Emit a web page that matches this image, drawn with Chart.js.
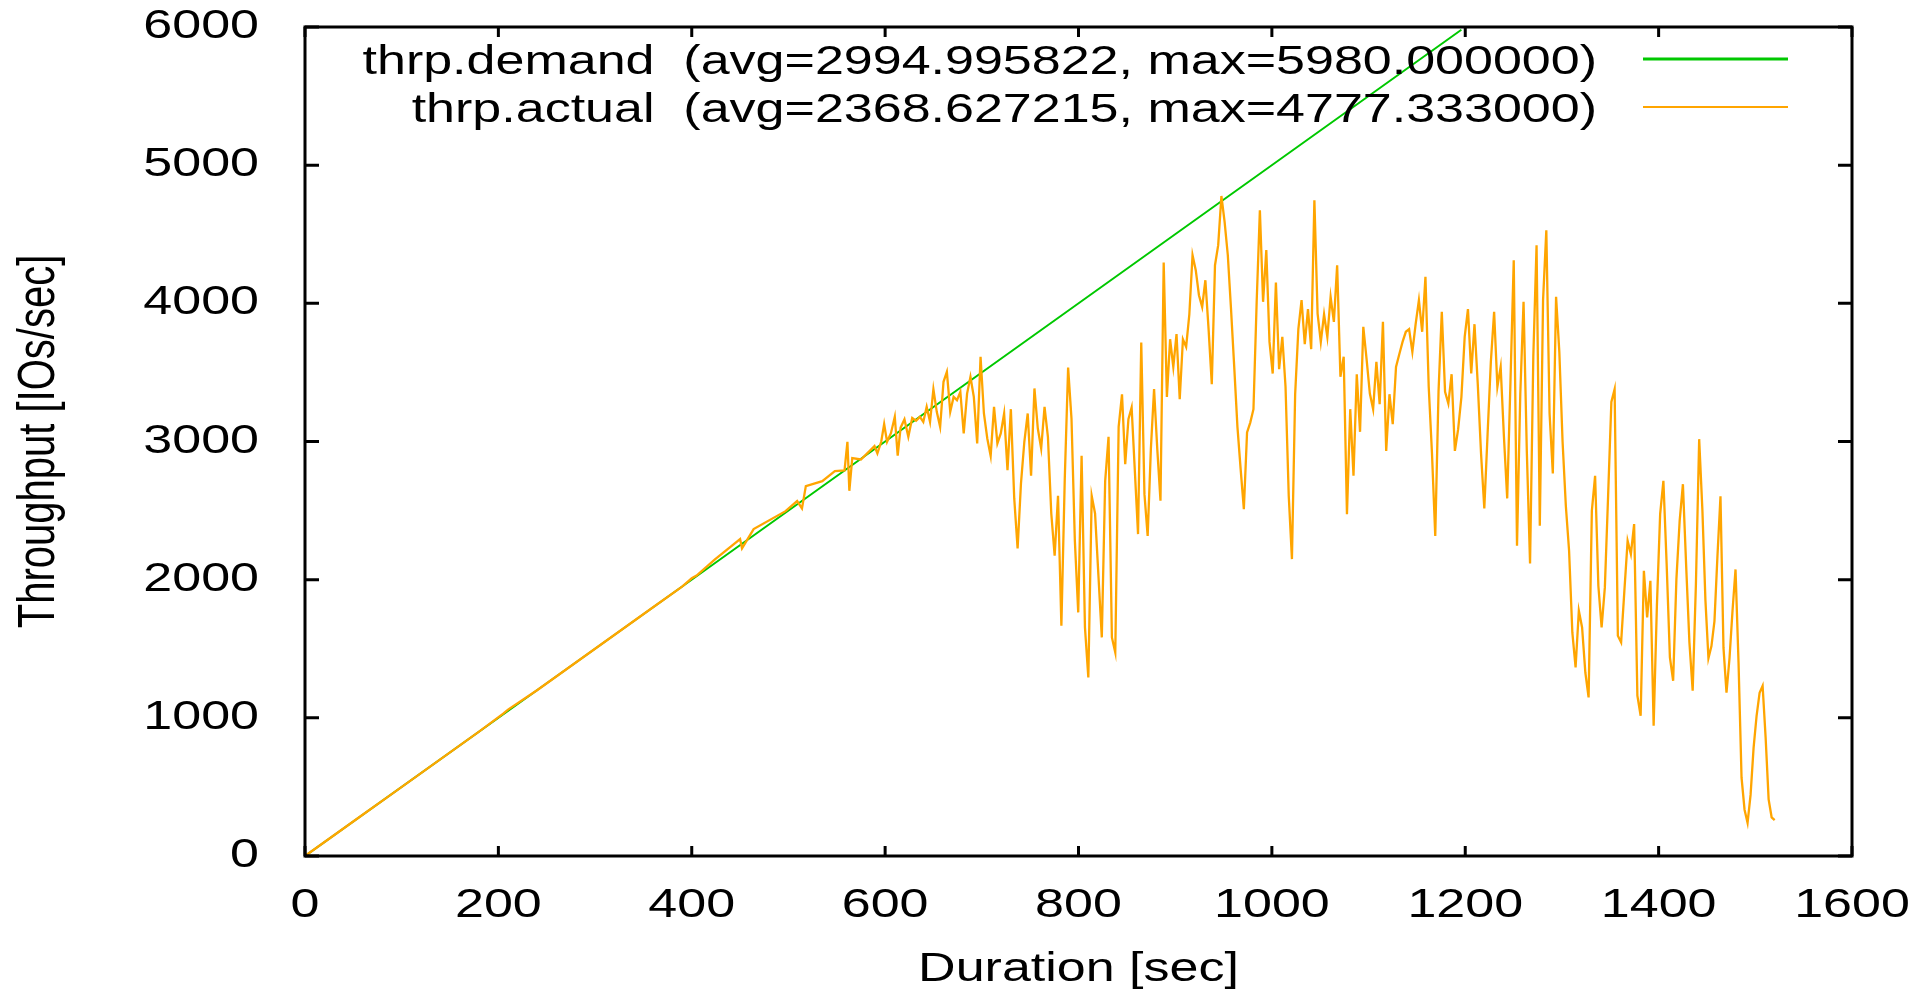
<!DOCTYPE html>
<html>
<head>
<meta charset="utf-8">
<title>Throughput</title>
<script src="https://cdn.jsdelivr.net/npm/chart.js@4.4.1/dist/chart.umd.min.js"></script>
<style>
  html, body { margin: 0; padding: 0; background: #fff; }
  canvas { display: block; }
</style>
</head>
<body>
<canvas id="chart" width="1926" height="991"></canvas>
<script>
// demand ramps up until the run stops asking at ~1196 s
const demandTime = [0, 300, 600, 900, 1196];
const demandValue = [0, 1500, 3000, 4500, 5980];

// actual throughput while it still keeps up with demand
const earlyTime = [0, 30, 60, 90, 120, 150, 180, 205, 210, 240, 270, 300, 330, 360, 390, 400, 405,
  424, 450, 452, 464, 497, 509, 514, 518, 535, 548, 558, 561, 563, 566, 575, 589, 592, 596, 599,
  602, 606, 610, 613, 616, 620, 624, 628, 632];
const earlyValue = [0, 150, 300, 450, 600, 750, 900, 1030, 1060, 1200, 1350, 1500, 1650, 1800, 1950, 2010, 2030,
  2147, 2294, 2226, 2366, 2496, 2569, 2516, 2677, 2713, 2786, 2790, 2998, 2643, 2880, 2870, 2967, 2914, 3000, 3126,
  2998, 3060, 3179, 2897, 3100, 3160, 3034, 3170, 3150];

// from ~636 s on the system saturates; samples come every ~3.4 s,
// pinned to these times at a few sample numbers
const lateAnchorIndex = [0, 60, 122, 184, 239, 263];
const lateAnchorTime = [636, 845, 1050.6, 1260.3, 1445.3, 1520];
const lateValue = [
  3178, 3142, 3251, 3142, 3379, 3215, 3106, 3432, 3504, 3215,
  3323, 3299, 3359, 3058, 3347, 3468, 3323, 2986, 3613, 3203,
  3022, 2896, 3251, 2986, 3058, 3203, 2793, 3234, 2588, 2226,
  2696, 2998, 3203, 2752, 3384, 3094, 2949, 3251, 3034, 2479,
  2173, 2607, 1666, 2727, 3535, 3166, 2281, 1763, 2896, 1654,
  1292, 2607, 2479, 2028, 1582, 2713, 3034, 1582, 1473, 3106,
  3342, 2836, 3162, 3246, 2788, 2330, 3716, 2619, 2317, 2945,
  3379, 2945, 2571, 4295, 3323, 3740, 3540, 3777, 3306, 3740,
  3685, 3921, 4348, 4240, 4059, 3974, 4167, 3813, 3415, 4276,
  4421, 4777, 4590, 4348, 3958, 3540, 3106, 2800, 2510, 3065,
  3137, 3234, 4011, 4674, 4011, 4385, 3721, 3492, 4150, 3523,
  3757, 3396, 2607, 2149, 3342, 3813, 4023, 3704, 3958, 3668,
  4746, 3926,
  3721, 3921, 3757, 4047, 3866, 4276, 3468, 3613, 2474, 3234,
  2752, 3487, 3070, 3830, 3596, 3347, 3234, 3576, 3270, 3866,
  2932, 3342, 3125, 3540, 3632, 3721, 3794, 3813, 3649, 3849,
  4023, 3794, 4192, 3396, 2913, 2317, 3359, 3938, 3359, 3275,
  3487, 2932, 3089, 3323, 3757, 3958, 3492, 3849, 3415, 2913,
  2515, 3053, 3576, 3938, 3396, 3540, 3034, 2588, 3432, 4312,
  2245, 3342,
  4011, 2932, 2117, 3613, 4421, 2390, 4023, 4529, 3203, 2768,
  4047, 3649, 2998, 2535, 2209, 1618, 1365, 1775, 1654, 1328,
  1148, 2498, 2752, 1956, 1654, 1944, 2607, 3287, 3379, 1594,
  1546, 1919, 2281, 2185, 2402, 1160, 1015, 2064, 1727, 1992,
  943, 1811, 2474, 2715, 2112, 1437, 1268, 2004, 2426, 2691,
  2100, 1546, 1196, 1968, 3017,
  2498, 1850, 1431, 1519, 1700, 2174, 2603, 1506, 1182, 1431,
  1775, 2074, 1401, 567, 335, 240, 442, 783, 1015, 1182,
  1232, 858, 410, 280, 260
];

const seriesNames = ['thrp.demand', 'thrp.actual'];
const seriesAvg = ['2994.995822', '2368.627215'];
const seriesMax = ['5980.000000', '4777.333000'];
const seriesColors = ['#00c800', '#ffa500'];

const xMax = 1600, xStep = 200;
const yMax = 6000, yStep = 1000;

function lateTime(i) {
  let k = 0;
  while (k < lateAnchorIndex.length - 2 && i > lateAnchorIndex[k + 1]) k++;
  const i0 = lateAnchorIndex[k], i1 = lateAnchorIndex[k + 1];
  const t0 = lateAnchorTime[k], t1 = lateAnchorTime[k + 1];
  return t0 + (t1 - t0) * (i - i0) / (i1 - i0);
}

const demandPoints = demandTime.map((t, i) => ({ x: t, y: demandValue[i] }));
const actualPoints = earlyTime.map((t, i) => ({ x: t, y: earlyValue[i] }))
  .concat(lateValue.map((v, i) => ({ x: lateTime(i), y: v })));

// the original plot has wide, horizontally stretched lettering
const TEXT_STRETCH = 1.3;
const canvas = document.getElementById('chart');
const ctx = canvas.getContext('2d');
const plainFillText = ctx.fillText;
ctx.fillText = function (text, x, y, maxWidth) {
  const m = this.getTransform();
  const p = m.transformPoint(new DOMPoint(x, y));
  this.save();
  this.setTransform(new DOMMatrix().translate(p.x, p.y).scale(TEXT_STRETCH, 1).translate(-p.x, -p.y).multiply(m));
  plainFillText.call(this, text, x, y, maxWidth);
  this.restore();
};

const font = { family: '"Liberation Sans", Arial, sans-serif', size: 40 };
const plain = v => String(v);

const background = {
  id: 'background',
  beforeDraw(chart) {
    const c = chart.ctx;
    c.save();
    c.fillStyle = '#fff';
    c.fillRect(0, 0, chart.width, chart.height);
    c.restore();
  }
};

// gnuplot style border with inward ticks on all four sides
const frame = {
  id: 'frame',
  afterDraw(chart) {
    const { ctx: c, chartArea: a, scales: { x, y } } = chart;
    c.save();
    c.strokeStyle = '#000';
    c.lineWidth = 3;
    c.beginPath();
    x.ticks.forEach(t => {
      const px = x.getPixelForValue(t.value);
      c.moveTo(px, a.bottom); c.lineTo(px, a.bottom - 10);
      c.moveTo(px, a.top); c.lineTo(px, a.top + 10);
    });
    y.ticks.forEach(t => {
      const py = y.getPixelForValue(t.value);
      c.moveTo(a.left, py); c.lineTo(a.left + 14, py);
      c.moveTo(a.right, py); c.lineTo(a.right - 14, py);
    });
    c.stroke();
    c.strokeRect(a.left, a.top, a.right - a.left, a.bottom - a.top);
    c.restore();
  }
};

const key = {
  id: 'key',
  afterDraw(chart) {
    const c = chart.ctx;
    c.save();
    c.font = '40px "Liberation Sans", Arial, sans-serif';
    c.fillStyle = '#000';
    c.textAlign = 'right';
    c.textBaseline = 'alphabetic';
    seriesNames.forEach((name, i) => {
      const y = 74 + i * 48;
      c.fillText(name + '  (avg=' + seriesAvg[i] + ', max=' + seriesMax[i] + ')', 1597, y);
      c.strokeStyle = seriesColors[i];
      c.lineWidth = i === 0 ? 3 : 2;
      c.beginPath();
      c.moveTo(1643, y - 15);
      c.lineTo(1788, y - 15);
      c.stroke();
    });
    c.restore();
  }
};

new Chart(ctx, {
  type: 'line',
  data: {
    datasets: [
      { label: seriesNames[1], data: actualPoints, borderColor: seriesColors[1], borderWidth: 2.3, pointRadius: 0, order: 0 },
      { label: seriesNames[0], data: demandPoints, borderColor: seriesColors[0], borderWidth: 2, pointRadius: 0, order: 1 }
    ]
  },
  options: {
    responsive: false,
    animation: false,
    layout: { padding: { top: 27, right: 74, bottom: 0, left: 0 } },
    plugins: { legend: { display: false }, tooltip: { enabled: false } },
    scales: {
      x: {
        type: 'linear', min: 0, max: xMax,
        ticks: { stepSize: xStep, padding: 26, font, color: '#000', autoSkip: false, maxRotation: 0, callback: plain },
        grid: { display: false, drawTicks: false },
        border: { display: false },
        title: { display: true, text: 'Duration [sec]', font: { ...font, lineHeight: 1.05 }, color: '#000', padding: { top: 0, bottom: 0 } },
        afterFit(scale) {
          scale.height = 135;
          scale.paddingLeft = 0;
          scale.paddingRight = 0;
        }
      },
      y: {
        min: 0, max: yMax,
        ticks: { stepSize: yStep, padding: 46, font, color: '#000', callback: plain },
        grid: { display: false, drawTicks: false },
        border: { display: false },
        title: { display: true, text: 'Throughput [IOs/sec]', font, color: '#000', padding: { top: 16, bottom: 0 } },
        afterFit(scale) {
          scale.width = 305;
          scale.paddingTop = 0;
          scale.paddingBottom = 0;
        }
      }
    }
  },
  plugins: [background, frame, key]
});
</script>
</body>
</html>
